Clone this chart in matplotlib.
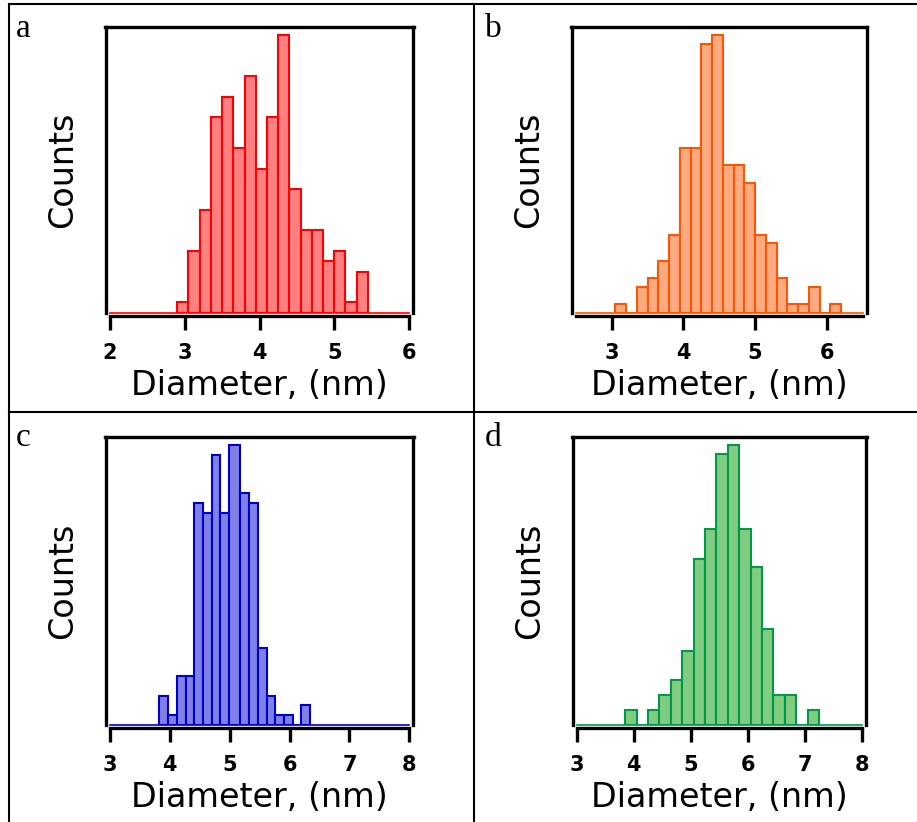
import numpy as np
import matplotlib
matplotlib.use("Agg")
import matplotlib.pyplot as plt
from matplotlib.lines import Line2D

W, H = 917, 822

# ---------------- data ----------------
a_edges = [2.90, 3.05, 3.20, 3.35, 3.50, 3.65, 3.80, 3.95, 4.10, 4.25, 4.40,
           4.55, 4.70, 4.85, 5.00, 5.15, 5.30, 5.45]
a_counts = [1, 6, 10, 19, 21, 16, 23, 14, 19, 27, 12, 8, 8, 5, 6, 1, 4]
a_ticks = [2, 3, 4, 5, 6]

b_edges = [3.05, 3.20, 3.35, 3.50, 3.65, 3.80, 3.95, 4.10, 4.25, 4.40, 4.55,
           4.70, 4.85, 5.00, 5.15, 5.30, 5.45, 5.60, 5.75, 5.90, 6.05, 6.20]
b_counts = [1, 0, 3, 4, 6, 9, 19, 19, 31, 32, 17, 17, 15, 9, 8, 4, 1, 1, 3, 0, 1]
b_ticks = [3, 4, 5, 6]

c_edges = [3.82, 3.975, 4.12, 4.265, 4.41, 4.56, 4.70, 4.845, 4.99, 5.18,
           5.325, 5.47, 5.615, 5.76, 5.905, 6.05, 6.195, 6.34]
c_counts = [3, 1, 5, 5, 23, 22, 28, 22, 29, 24, 23, 8, 3, 1, 1, 0, 2]
c_ticks = [3, 4, 5, 6, 7, 8]

d_edges = [3.85, 4.05, 4.25, 4.45, 4.65, 4.85, 5.05, 5.25, 5.45, 5.65, 5.85,
           6.05, 6.25, 6.45, 6.65, 6.85, 7.05, 7.25]
d_counts = [1, 0, 1, 2, 3, 5, 11.2, 13.2, 18.3, 18.9, 13.2, 10.65, 6.5, 2, 2, 0, 1]
d_ticks = [3, 4, 5, 6, 7, 8]

letters = ["a", "b", "c", "d"]
x_label = "Diameter, (nm)"
y_label = "Counts"

# ---------------- layout / style ----------------
panels = [
    dict(edges=a_edges, counts=a_counts, ticks=a_ticks, xlim=(2, 6),
         edge="#FF0000", fill="#FF8080", box=(110, 409, 26.7, 312.7),
         lpos=(16, 37)),
    dict(edges=b_edges, counts=b_counts, ticks=b_ticks, xlim=(2.5, 6.5),
         edge="#FF5500", fill="#FFAA80", box=(576, 862.5, 26.7, 312.7),
         lpos=(485, 37)),
    dict(edges=c_edges, counts=c_counts, ticks=c_ticks, xlim=(3, 8),
         edge="#0000CC", fill="#8080E6", box=(110, 409.3, 436.7, 724.7),
         lpos=(16, 446)),
    dict(edges=d_edges, counts=d_counts, ticks=d_ticks, xlim=(3, 8),
         edge="#00994A", fill="#80CC80", box=(576.7, 861.7, 436.7, 724.7),
         lpos=(485, 446)),
]

fig = plt.figure(figsize=(W / 100, H / 100), dpi=100)
fig.patch.set_facecolor("white")

for p, letter in zip(panels, letters):
    l, r, t, b = p["box"]
    ax = fig.add_axes([l / W, 1 - b / H, (r - l) / W, (b - t) / H])
    edges = np.array(p["edges"])
    counts = np.array(p["counts"], dtype=float)
    ax.bar(edges[:-1], counts, width=np.diff(edges), align="edge",
           color=p["fill"], edgecolor=p["edge"], linewidth=1.5, zorder=3)
    ax.axhline(0, color=p["edge"], lw=1.2, zorder=2, clip_on=False)
    ax.set_xlim(*p["xlim"])
    ax.set_ylim(0, counts.max() * 1.03)
    ax.set_xticks(p["ticks"])
    ax.set_xticklabels([str(v) for v in p["ticks"]])
    ax.set_yticks([])
    for s in ax.spines.values():
        s.set_linewidth(2.4)
        s.set_color("black")
    ax.spines["left"].set_position(("outward", 3))
    ax.spines["right"].set_position(("outward", 3))
    ax.spines["bottom"].set_position(("outward", 2.6))
    w = p["xlim"][1] - p["xlim"][0]
    ax.spines["top"].set_bounds(p["xlim"][0] - 0.017 * w, p["xlim"][1] + 0.017 * w)
    ax.tick_params(axis="x", direction="out", length=10, width=2.4, pad=9.5,
                   labelsize=15, top=False)
    for lab in ax.get_xticklabels():
        lab.set_fontweight("bold")
    ax.set_xlabel(x_label, fontsize=24)
    ax.xaxis.set_label_coords(0.5, -56.0 / (b - t))
    ax.set_ylabel(y_label, fontsize=24)
    ax.yaxis.set_label_coords(-31.0 / (r - l), 0.5)
    fig.text(p["lpos"][0] / W, 1 - p["lpos"][1] / H, letter,
             family="Liberation Serif", fontsize=24, ha="left", va="baseline")

# panel frame lines
def fline(x0, y0, x1, y1):
    fig.add_artist(Line2D([x0 / W, x1 / W], [1 - y0 / H, 1 - y1 / H],
                          transform=fig.transFigure, color="black", lw=1.5))

fline(9, 4, 917, 4)
fline(9, 4, 9, 822)
fline(474, 4, 474, 822)
fline(9, 412, 917, 412)

fig.savefig("out.png", dpi=100, facecolor="white")
